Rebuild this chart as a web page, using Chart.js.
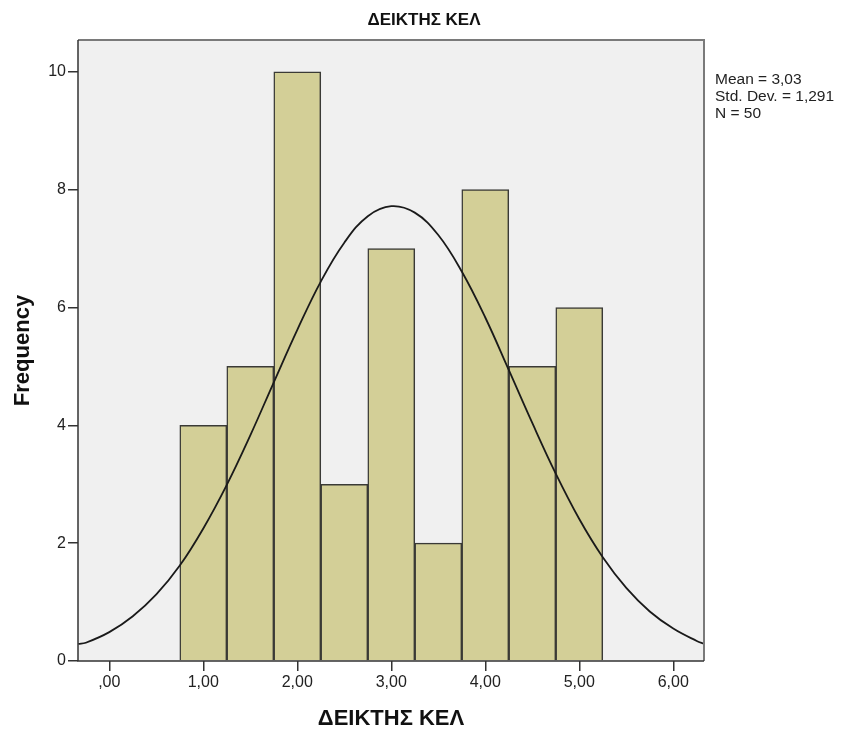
<!DOCTYPE html>
<html>
<head>
<meta charset="utf-8">
<script src="https://cdn.jsdelivr.net/npm/chart.js@4.4.1/dist/chart.umd.min.js"></script>
<style>
  html, body { margin: 0; padding: 0; background: #ffffff; }
  #wrap { width: 844px; height: 732px; position: relative; }
</style>
</head>
<body>
<div id="wrap"><canvas id="histChart" width="844" height="732"></canvas></div>
<script>
// histogram bins (centre of each 0.5-wide bin) and counts
const binCenters = [1.0, 1.5, 2.0, 2.5, 3.0, 3.5, 4.0, 4.5, 5.0];
const frequencies = [4, 5, 10, 3, 7, 2, 8, 5, 6];

// normal curve
const curveX = [-0.33, -0.25, 0, 0.25, 0.5, 0.75, 1.0, 1.25, 1.5, 1.75, 2.0, 2.25, 2.5, 2.75, 3.0, 3.25, 3.5, 3.75, 4.0, 4.25, 4.5, 4.75, 5.0, 5.25, 5.5, 5.75, 6.0, 6.25, 6.33];
const curveY = [0.29, 0.31, 0.49, 0.76, 1.13, 1.62, 2.25, 2.99, 3.83, 4.73, 5.62, 6.44, 7.10, 7.55, 7.72, 7.61, 7.23, 6.61, 5.83, 4.94, 4.04, 3.18, 2.41, 1.76, 1.24, 0.84, 0.55, 0.34, 0.29];

const xTickValues = [0, 1, 2, 3, 4, 5, 6];
const xTickLabels = [',00', '1,00', '2,00', '3,00', '4,00', '5,00', '6,00'];
const yTickValues = [0, 2, 4, 6, 8, 10];
const yTickLabels = ['0', '2', '4', '6', '8', '10'];

const chartTitle = 'ΔΕΙΚΤΗΣ ΚΕΛ';
const xTitle = 'ΔΕΙΚΤΗΣ ΚΕΛ';
const yTitle = 'Frequency';
const statLines = ['Mean = 3,03', 'Std. Dev. = 1,291', 'N = 50'];

const FONT = '"Liberation Sans", Arial, sans-serif';

const spssFrame = {
    id: 'spssFrame',
    beforeDatasetsDraw(chart) {
        const { ctx, chartArea: a } = chart;
        ctx.save();
        ctx.fillStyle = '#f0f0f0';
        ctx.fillRect(a.left, a.top, a.right - a.left, a.bottom - a.top);
        ctx.restore();
    },
    afterDatasetsDraw(chart) {
        const { ctx, chartArea: a } = chart;
        ctx.save();
        // top and right edges lighter, left and bottom dark
        ctx.lineWidth = 2;
        ctx.strokeStyle = '#7a7a7a';
        ctx.beginPath();
        ctx.moveTo(a.left, a.top);
        ctx.lineTo(a.right, a.top);
        ctx.lineTo(a.right, a.bottom);
        ctx.stroke();
        ctx.strokeStyle = '#333333';
        ctx.lineWidth = 1.5;
        ctx.beginPath();
        ctx.moveTo(a.left, a.top);
        ctx.lineTo(a.left, a.bottom);
        ctx.lineTo(a.right, a.bottom);
        ctx.stroke();
        ctx.restore();
    },
    afterDraw(chart) {
        const { ctx, chartArea: a } = chart;
        ctx.save();
        ctx.fillStyle = '#111111';
        ctx.textAlign = 'center';
        ctx.textBaseline = 'middle';

        ctx.font = 'bold 17px ' + FONT;
        ctx.fillText(chartTitle, 424, 20);

        ctx.font = 'bold 22px ' + FONT;
        ctx.fillText(xTitle, (a.left + a.right) / 2, 719);

        ctx.save();
        ctx.translate(23, (a.top + a.bottom) / 2);
        ctx.rotate(-Math.PI / 2);
        ctx.fillText(yTitle, 0, 0);
        ctx.restore();

        ctx.font = '15.5px ' + FONT;
        ctx.textAlign = 'left';
        ctx.fillStyle = '#222222';
        statLines.forEach((t, i) => ctx.fillText(t, a.right + 11, 80 + i * 17));
        ctx.restore();
    }
};

const ctxHist = document.getElementById('histChart').getContext('2d');

new Chart(ctxHist, {
    data: {
        datasets: [
            {
                type: 'line',
                data: curveX.map((x, i) => ({ x: x, y: curveY[i] })),
                borderColor: '#1a1a1a',
                borderWidth: 1.8,
                tension: 0.4,
                pointRadius: 0,
                fill: false,
                order: 0
            },
            {
                type: 'bar',
                data: binCenters.map((x, i) => ({ x: x, y: frequencies[i] })),
                backgroundColor: '#d3cf97',
                borderColor: '#3a3a36',
                borderWidth: 1.5,
                barPercentage: 1,
                categoryPercentage: 1,
                grouped: false,
                order: 1
            }
        ]
    },
    options: {
        responsive: false,
        animation: false,
        layout: { padding: { top: 40, right: 140, left: 0, bottom: 0 } },
        plugins: {
            legend: { display: false },
            tooltip: { enabled: false },
            title: { display: false }
        },
        scales: {
            x: {
                type: 'linear',
                offset: false,
                min: -0.333,
                max: 6.327,
                afterBuildTicks: s => { s.ticks = xTickValues.map(v => ({ value: v })); },
                afterFit: s => { s.height = 71; },
                ticks: {
                    callback: v => xTickLabels[xTickValues.indexOf(v)],
                    font: { size: 16, family: FONT },
                    color: '#222222',
                    padding: 2,
                    maxRotation: 0,
                    autoSkip: false
                },
                grid: { offset: false, drawOnChartArea: false, color: '#333333', tickLength: 10, lineWidth: 1.5 },
                border: { display: false }
            },
            y: {
                min: 0,
                max: 10.54,
                afterBuildTicks: s => { s.ticks = yTickValues.map(v => ({ value: v })); },
                afterFit: s => { s.width = 78; },
                ticks: {
                    callback: v => yTickLabels[yTickValues.indexOf(v)],
                    font: { size: 16, family: FONT },
                    color: '#222222',
                    padding: 2,
                    autoSkip: false
                },
                grid: { drawOnChartArea: false, color: '#333333', tickLength: 10, lineWidth: 1.5 },
                border: { display: false }
            }
        }
    },
    plugins: [spssFrame]
});
</script>
</body>
</html>
